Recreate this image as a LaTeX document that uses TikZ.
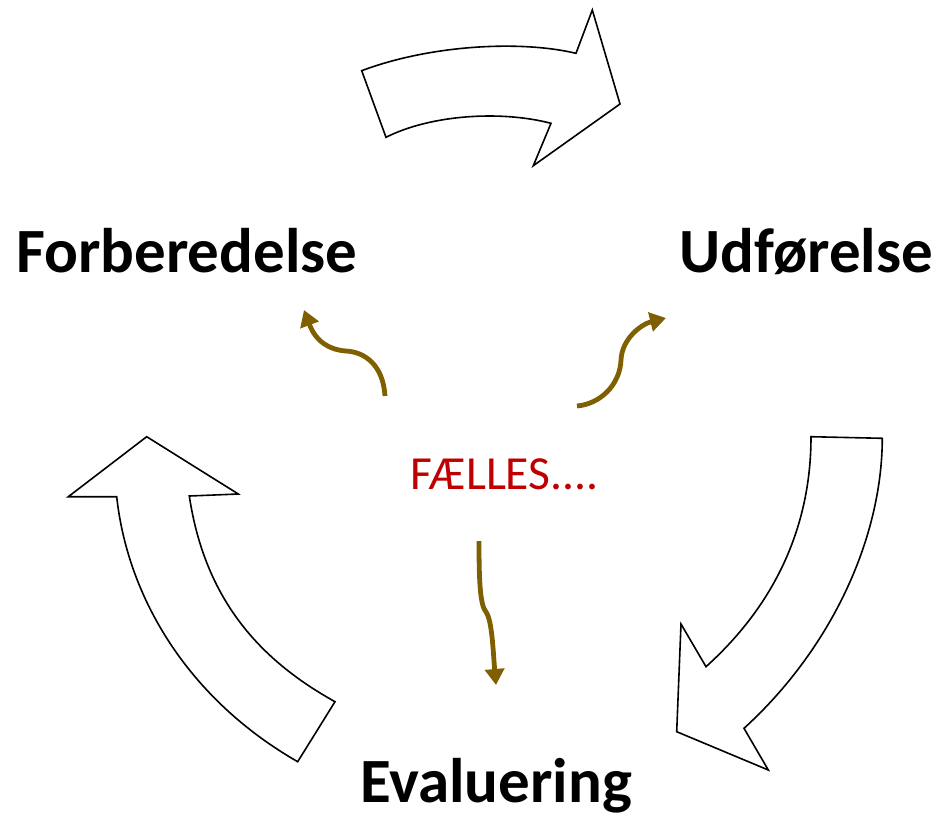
\documentclass[tikz,border=0pt]{standalone}
\usepackage{fontspec}
\setmainfont{Carlito}
\usetikzlibrary{arrows.meta}
\definecolor{olive}{HTML}{7F6000}
\definecolor{fred}{HTML}{C00000}
\tikzset{
  bigarrow/.style={draw=black, fill=white, line width=1.6pt, line join=miter},
  smallarrow/.style={draw=olive, line width=4.8pt, -{Triangle[length=16pt,width=19pt]}},
  phase/.style={inner sep=0pt, anchor=base west, font=\fontsize{63}{65}\selectfont\bfseries},
  center/.style={inner sep=0pt, anchor=base west, text=fred, font=\fontsize{47.5}{49}\selectfont}
}
\begin{document}
\begin{tikzpicture}[x=1pt,y=-1pt]
\useasboundingbox (0,0) rectangle (938,815);
% big arrows
\draw[bigarrow] (361.7,70.7) .. controls (430,45) and (520,40) .. (576,53.3) -- (592.3,10) -- (620,104) -- (533.3,165.7) -- (551,123.3) .. controls (500,110) and (430,115) .. (386,137.3) -- cycle;
\draw[bigarrow] (811,436.7) -- (882.3,438.3) .. controls (882,540) and (830,650) .. (744,728.3) -- (768.3,770) -- (676.7,731.7) -- (681,624) -- (706,666.7) .. controls (780,600) and (811,520) .. (811,436.7) -- cycle;
\draw[bigarrow] (146.7,436.7) -- (238.3,494) -- (189.3,496) .. controls (205,600) and (260,660) .. (335,701.7) -- (297.7,761.7) .. controls (190,700) and (128,600) .. (116.7,496.7) -- (68.3,496.7) -- cycle;
% labels
\node[phase] (forb) at (16,272) {Forberedelse};
\node[phase] (udf) at (679,272) {Udførelse};
\node[phase] (eval) at (360,802) {Evaluering};
\node[center] (faelles) at (410,489) {FÆLLES....};
% small arrows
\coordinate (s1) at (385,396);
\coordinate (e1) at (304,310);
\coordinate (s2) at (577,406);
\coordinate (e2) at (666,318);
\coordinate (s3) at (479,541);
\coordinate (e3) at (496,685);
\draw[smallarrow] (s1) .. controls (383,365) and (365,352) .. (346,351) .. controls (330,350) and (316,342) .. (e1);
\draw[smallarrow] (s2) .. controls (600,404) and (620,385) .. (621,360) .. controls (622,338) and (642,324) .. (e2);
\draw[smallarrow] (s3) .. controls (479,580) and (480,605) .. (486,612) .. controls (492,620) and (493,650) .. (e3);
\end{tikzpicture}
\end{document}
